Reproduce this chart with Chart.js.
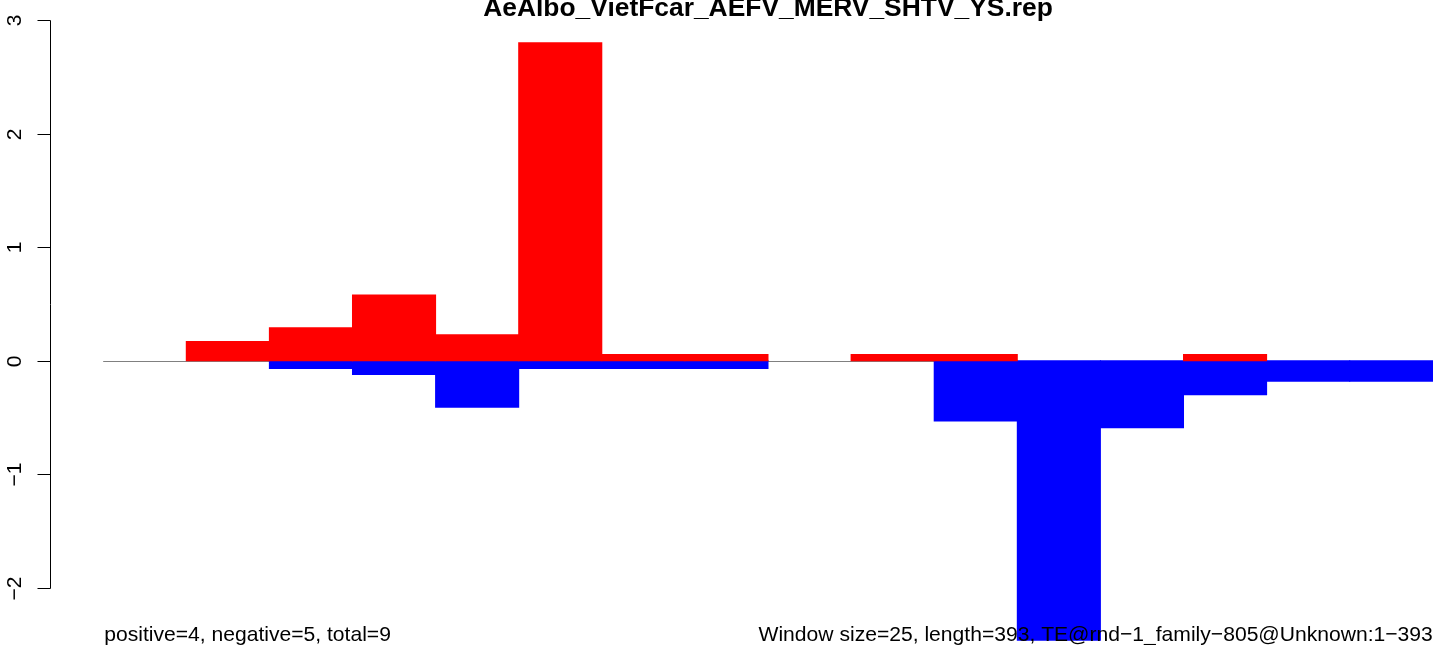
<!DOCTYPE html>
<html>
<head>
<meta charset="utf-8">
<script src="https://cdn.jsdelivr.net/npm/chart.js@4/dist/chart.umd.min.js"></script>
<style>
html, body { margin: 0; padding: 0; overflow: hidden; background: #fff; }
#wrap { width: 1500px; height: 680px; }
</style>
</head>
<body>
<div id="wrap"><canvas id="c" width="1500" height="680"></canvas></div>
<script>
// ---- data ----
const chartTitle = "AeAlbo_VietFcar_AEFV_MERV_SHTV_YS.rep";
const leftNote = "positive=4, negative=5, total=9";
const rightNote = "Window size=25, length=393, TE@rnd\u22121_family\u2212805@Unknown:1\u2212393";
const binCenters = [0.5, 1.5, 2.5, 3.5, 4.5, 5.5, 6.5, 7.5, 8.5, 9.5, 10.5, 11.5, 12.5, 13.5, 14.5, 15.5];
const positiveValues = [null, 0.17, 0.29, 0.58, 0.23, 2.80, 0.055, 0.055, null, 0.055, 0.055, null, null, 0.055, null, null];
const negativeValues = [null, null, -0.068, -0.12, -0.41, -0.068, -0.068, -0.068, null, null, -0.53, -2.46, -0.59, -0.30, -0.18, -0.18];
const yTickValues = [-2, -1, 0, 1, 2, 3];
const yTickLabels = ["\u22122", "\u22121", "0", "1", "2", "3"];
const xRange = [0, 16];

const FONT = '"Liberation Sans", Arial, Helvetica, sans-serif';

const decor = {
  id: 'decor',
  beforeDatasetsDraw(chart) {
    const ctx = chart.ctx, x = chart.scales.x, y = chart.scales.y;
    ctx.save();
    ctx.strokeStyle = '#808080';
    ctx.lineWidth = 1.2;
    const y0 = Math.round(y.getPixelForValue(0)) + 0.5;
    ctx.beginPath();
    ctx.moveTo(x.getPixelForValue(xRange[0]), y0);
    ctx.lineTo(x.getPixelForValue(xRange[1]), y0);
    ctx.stroke();
    ctx.restore();
  },
  afterDraw(chart) {
    const ctx = chart.ctx, x = chart.scales.x, y = chart.scales.y;
    const area = chart.chartArea;
    ctx.save();
    // y axis
    const ax = Math.round(area.left) + 0.5;
    ctx.strokeStyle = '#000';
    ctx.lineWidth = 1;
    ctx.beginPath();
    ctx.moveTo(ax, Math.round(y.getPixelForValue(yTickValues[yTickValues.length - 1])) + 0.5);
    ctx.lineTo(ax, Math.round(y.getPixelForValue(yTickValues[0])) + 0.5);
    ctx.stroke();
    ctx.fillStyle = '#000';
    ctx.font = '21px ' + FONT;
    yTickValues.forEach((v, i) => {
      const py = Math.round(y.getPixelForValue(v)) + 0.5;
      ctx.beginPath();
      ctx.moveTo(ax - 13, py);
      ctx.lineTo(ax, py);
      ctx.stroke();
      ctx.save();
      ctx.translate(ax - 30, py);
      ctx.rotate(-Math.PI / 2);
      ctx.textAlign = 'center';
      ctx.textBaseline = 'alphabetic';
      ctx.fillText(yTickLabels[i], 0, 0);
      ctx.restore();
    });
    // title
    ctx.font = 'bold 26.4px ' + FONT;
    ctx.textAlign = 'center';
    ctx.textBaseline = 'alphabetic';
    ctx.fillText(chartTitle, (area.left + area.right) / 2, 16);
    // notes
    ctx.font = '21.1px ' + FONT;
    ctx.textAlign = 'left';
    ctx.fillText(leftNote, x.getPixelForValue(xRange[0]) + 1, 641);
    ctx.textAlign = 'right';
    ctx.fillText(rightNote, x.getPixelForValue(xRange[1]), 641);
    ctx.restore();
  }
};

new Chart(document.getElementById('c'), {
  type: 'bar',
  data: {
    datasets: [
      {
        label: 'positive',
        data: binCenters.map((c, i) => ({ x: c, y: positiveValues[i] })),
        backgroundColor: '#FF0000',
        borderWidth: 0,
        inflateAmount: 0.5,
        grouped: false,
        barPercentage: 1,
        categoryPercentage: 1
      },
      {
        label: 'negative',
        data: binCenters.map((c, i) => ({ x: c, y: negativeValues[i] })),
        backgroundColor: '#0000FF',
        borderWidth: 0,
        inflateAmount: 0.5,
        grouped: false,
        barPercentage: 1,
        categoryPercentage: 1
      }
    ]
  },
  options: {
    responsive: false,
    animation: false,
    devicePixelRatio: 1,
    layout: { padding: { left: 50, right: 14, top: 19, bottom: 16 } },
    plugins: { legend: { display: false }, tooltip: { enabled: false }, title: { display: false } },
    scales: {
      x: { type: 'linear', min: -0.64, max: 16.64, display: false, offset: false },
      y: { type: 'linear', min: -2.67, max: 3.01, display: false }
    }
  },
  plugins: [decor]
});
</script>
</body>
</html>
